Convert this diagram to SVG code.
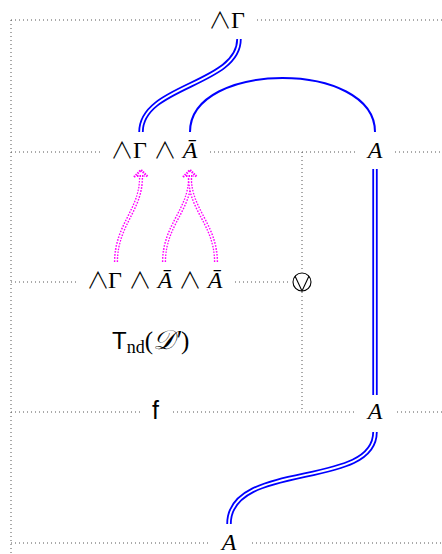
<svg xmlns="http://www.w3.org/2000/svg" width="442" height="554" viewBox="0 0 442 554">
<style>
.grid{fill:none;stroke:#555;stroke-width:1;stroke-dasharray:1 3}
.m{font-family:"Liberation Serif","DejaVu Serif",serif;font-size:24px;fill:#000;text-anchor:middle}
.w{font-family:"Noto Sans CJK JP","DejaVu Sans",sans-serif;font-weight:300;font-size:23px;fill:#000;text-anchor:middle}
.i{font-style:italic}
.s{font-family:"Liberation Sans","DejaVu Sans",sans-serif;fill:#000}
.bo{fill:none;stroke:#0000ff;stroke-width:5.4}
.bi{fill:none;stroke:#fff;stroke-width:1.8}
.b1{fill:none;stroke:#0000ff;stroke-width:2}
.po{fill:none;stroke:#ff00ff;stroke-width:4.2;stroke-dasharray:1.6 1.4}
.pi{fill:none;stroke:#fff;stroke-width:1.4}
.ah{fill:none;stroke:#ff00ff;stroke-width:2.2;stroke-dasharray:1.5 1}
</style>
<rect width="442" height="554" fill="#fff"/>
<g id="frame">
<path class="grid" d="M11,20 V554"/>
<path class="grid" d="M11,20 H200 M257,20 H442"/>
<path class="grid" d="M11,152 H100 M210,152 H356 M395,152 H442"/>
<path class="grid" d="M11,282 H76 M235,282 H291"/>
<path class="grid" d="M11,412 H143 M173,412 H356 M397,412 H442"/>
<path class="grid" d="M11,543 H210 M252,543 H442"/>
<path class="grid" d="M302,152 V272 M302,292 V412"/>
</g>
<g id="connectors">
<path class="bo" d="M239,39 C239,85 141,85 141,132"/>
<path class="bi" d="M239,39 C239,85 141,85 141,132"/>
<path class="b1" d="M190,132 C190,60 375,60 375,132"/>
<path class="bo" d="M375,169 V395"/>
<path class="bi" d="M375,169 V395"/>
<path class="bo" d="M375,432 C375,490 229,460 229,524"/>
<path class="bi" d="M375,432 C375,490 229,460 229,524"/>
<path class="po" d="M116,262 C116,225 141,210 141,178"/>
<path class="pi" d="M116,262 C116,225 141,210 141,178"/>
<path class="po" d="M164,262 C164,225 190,210 190,178"/>
<path class="pi" d="M164,262 C164,225 190,210 190,178"/>
<path class="po" d="M216,262 C216,225 190,210 190,178"/>
<path class="pi" d="M216,262 C216,225 190,210 190,178"/>
<path class="ah" d="M134,177 L141,170 L148,177 M137,176 H145"/>
<path class="ah" d="M183,177 L190,170 L197,177 M186,176 H194"/>
</g>
<g id="n-top"><text y="28"><tspan class="w" x="220">∧</tspan><tspan class="m" x="238">Γ</tspan></text></g>
<g id="n-mid"><text y="158"><tspan class="w" x="122">∧</tspan><tspan class="m" x="140">Γ</tspan><tspan class="w" x="165">∧</tspan><tspan class="m i" x="190">Ā</tspan></text></g>
<g id="n-A1"><text class="m i" x="375" y="158">A</text></g>
<g id="n-prem"><text y="288"><tspan class="w" x="98">∧</tspan><tspan class="m" x="115">Γ</tspan><tspan class="w" x="140">∧</tspan><tspan class="m i" x="165">Ā</tspan><tspan class="w" x="190">∧</tspan><tspan class="m i" x="215">Ā</tspan></text></g>
<g id="n-vee">
<circle cx="302" cy="282" r="9" fill="none" stroke="#000" stroke-width="1.1"/>
<path d="M295,276 L302,291 L309,276" fill="none" stroke="#000" stroke-width="1.1"/>
</g>
<g id="n-T"><text x="112" y="349"><tspan class="s" font-size="24">T</tspan><tspan font-family="Liberation Serif,serif" font-size="18" dy="4">nd</tspan><tspan font-family="Liberation Serif,serif" font-size="25" dy="-4">(</tspan><tspan font-family="Liberation Serif,serif" font-size="27" font-style="italic">𝒟′</tspan><tspan font-family="Liberation Serif,serif" font-size="25">)</tspan></text></g>
<g id="n-f"><text class="s" font-size="25" x="152" y="419">f</text></g>
<g id="n-A2"><text class="m i" x="375" y="419">A</text></g>
<g id="n-A3"><text class="m i" x="229" y="550">A</text></g>
</svg>
